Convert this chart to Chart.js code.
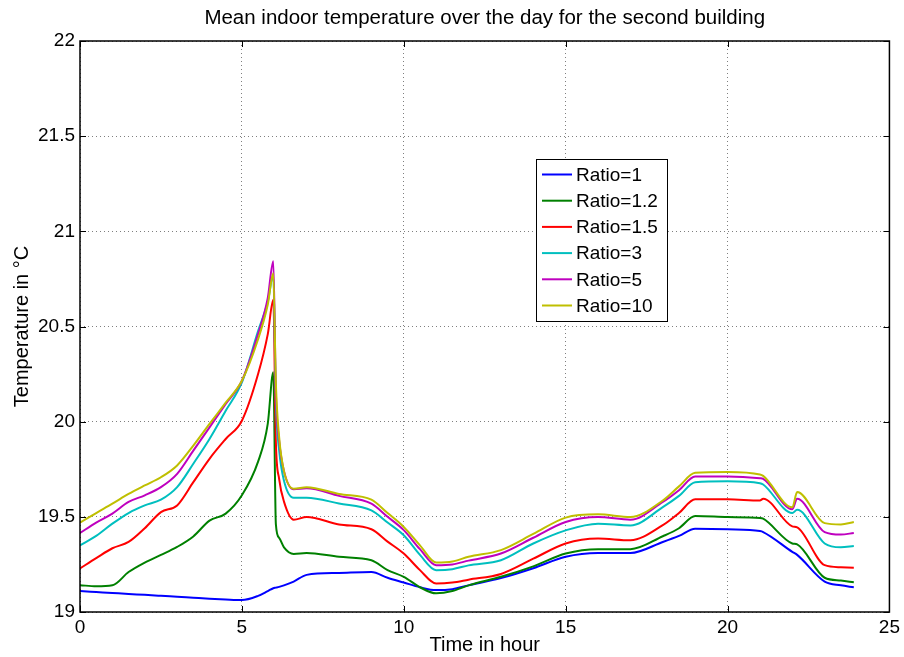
<!DOCTYPE html>
<html>
<head>
<meta charset="utf-8">
<title>Mean indoor temperature</title>
<script src="https://cdn.jsdelivr.net/npm/chart.js@4.4.1/dist/chart.umd.min.js"></script>
<style>
  html, body { margin: 0; padding: 0; background: #fff; }
  #wrap { width: 904px; height: 657px; }
</style>
</head>
<body>
<div id="wrap"><canvas id="chart" width="904" height="657"></canvas></div>
<script>
// Sample times (hours) shared by all series
const hours = [0, 0.5, 1, 1.5, 2, 2.5, 3, 3.5, 4, 4.5, 5, 5.5, 5.8, 5.97, 6.05, 6.15, 6.3, 6.6, 7, 8, 9, 9.5, 10, 10.5, 11, 11.5, 12, 13, 14, 15, 16, 17, 18, 18.5, 19, 20, 21, 21.1, 22, 22.15, 23, 23.5, 23.9];

// Mean indoor temperature (°C)
const ratio1   = [19.11, 19.105, 19.10, 19.095, 19.09, 19.085, 19.08, 19.075, 19.07, 19.066, 19.063, 19.085, 19.11, 19.125, 19.128, 19.132, 19.14, 19.16, 19.195, 19.205, 19.21, 19.18, 19.155, 19.13, 19.115, 19.12, 19.14, 19.178, 19.23, 19.29, 19.31, 19.31, 19.368, 19.40, 19.438, 19.435, 19.425, 19.42, 19.316, 19.30, 19.16, 19.14, 19.13];
const ratio1_2 = [19.141, 19.135, 19.14, 19.21, 19.26, 19.30, 19.342, 19.397, 19.48, 19.517, 19.613, 19.79, 19.99, 20.26, 19.46, 19.39, 19.34, 19.305, 19.31, 19.29, 19.272, 19.22, 19.185, 19.13, 19.098, 19.11, 19.14, 19.185, 19.24, 19.307, 19.33, 19.33, 19.398, 19.44, 19.504, 19.499, 19.494, 19.49, 19.36, 19.355, 19.18, 19.165, 19.156];
const ratio1_5 = [19.229, 19.283, 19.335, 19.368, 19.44, 19.525, 19.56, 19.682, 19.805, 19.909, 20.005, 20.25, 20.46, 20.64, 19.89, 19.70, 19.58, 19.485, 19.499, 19.46, 19.435, 19.37, 19.307, 19.22, 19.15, 19.155, 19.17, 19.20, 19.28, 19.36, 19.386, 19.377, 19.456, 19.52, 19.592, 19.592, 19.586, 19.595, 19.45, 19.445, 19.246, 19.235, 19.232];
const ratio3   = [19.35, 19.40, 19.464, 19.52, 19.56, 19.59, 19.656, 19.779, 19.909, 20.057, 20.206, 20.476, 20.63, 20.77, 20.10, 19.85, 19.69, 19.60, 19.60, 19.57, 19.534, 19.47, 19.403, 19.30, 19.22, 19.225, 19.245, 19.272, 19.36, 19.429, 19.464, 19.455, 19.551, 19.61, 19.682, 19.687, 19.677, 19.67, 19.52, 19.537, 19.36, 19.34, 19.347];
const ratio5   = [19.415, 19.47, 19.517, 19.578, 19.613, 19.656, 19.726, 19.848, 19.97, 20.093, 20.215, 20.46, 20.65, 20.843, 20.15, 19.90, 19.74, 19.645, 19.65, 19.61, 19.569, 19.50, 19.43, 19.33, 19.246, 19.25, 19.27, 19.307, 19.39, 19.473, 19.499, 19.485, 19.578, 19.64, 19.712, 19.712, 19.703, 19.70, 19.54, 19.595, 19.42, 19.407, 19.415];
const ratio10  = [19.47, 19.52, 19.569, 19.62, 19.665, 19.708, 19.77, 19.874, 19.988, 20.10, 20.215, 20.433, 20.616, 20.78, 20.20, 19.92, 19.74, 19.648, 19.656, 19.62, 19.59, 19.52, 19.447, 19.35, 19.26, 19.265, 19.29, 19.325, 19.41, 19.496, 19.513, 19.499, 19.586, 19.66, 19.731, 19.735, 19.722, 19.715, 19.55, 19.63, 19.467, 19.46, 19.473];

const seriesLabels = ['Ratio=1', 'Ratio=1.2', 'Ratio=1.5', 'Ratio=3', 'Ratio=5', 'Ratio=10'];
const seriesValues = [ratio1, ratio1_2, ratio1_5, ratio3, ratio5, ratio10];
const seriesColors = ['#0000ff', '#008000', '#ff0000', '#00bfbf', '#bf00bf', '#bfbf00'];

// Axis ticks
const xTicks = [0, 5, 10, 15, 20, 25];
const yTicks = [19, 19.5, 20, 20.5, 21, 21.5, 22];

const FONT = "'Liberation Sans', Arial, Helvetica, sans-serif";

// MATLAB-style box, inward ticks and legend
const matlabFrame = {
    id: 'matlabFrame',
    afterDraw(chart) {
        const ctx = chart.ctx;
        const area = chart.chartArea;
        const xs = chart.scales.x;
        const ys = chart.scales.y;
        const tl = 6;

        ctx.save();
        ctx.strokeStyle = '#000';
        ctx.lineWidth = 1;
        ctx.setLineDash([]);
        ctx.beginPath();
        xTicks.forEach(v => {
            const px = Math.round(xs.getPixelForValue(v)) + 0.5;
            ctx.moveTo(px, area.bottom); ctx.lineTo(px, area.bottom - tl);
            ctx.moveTo(px, area.top); ctx.lineTo(px, area.top + tl);
        });
        yTicks.forEach(v => {
            const py = Math.round(ys.getPixelForValue(v)) + 0.5;
            ctx.moveTo(area.left, py); ctx.lineTo(area.left + tl, py);
            ctx.moveTo(area.right, py); ctx.lineTo(area.right - tl, py);
        });
        ctx.stroke();

        ctx.lineWidth = 1.5;
        ctx.strokeRect(area.left, area.top, area.right - area.left, area.bottom - area.top);

        // legend box
        const lx = area.left + 456;
        const ly = area.top + 118;
        const lw = 131;
        const lh = 162;
        ctx.fillStyle = '#fff';
        ctx.fillRect(lx, ly, lw, lh);
        ctx.lineWidth = 1;
        ctx.strokeRect(lx + 0.5, ly + 0.5, lw, lh);
        ctx.font = '19px ' + FONT;
        ctx.textBaseline = 'middle';
        ctx.textAlign = 'left';
        seriesLabels.forEach((label, i) => {
            const ry = ly + 15.5 + i * 26.2;
            ctx.strokeStyle = seriesColors[i];
            ctx.lineWidth = 2;
            ctx.beginPath();
            ctx.moveTo(lx + 6, ry);
            ctx.lineTo(lx + 36, ry);
            ctx.stroke();
            ctx.fillStyle = '#000';
            ctx.fillText(label, lx + 40, ry + 1);
        });
        ctx.restore();
    }
};

const datasets = seriesLabels.map((label, i) => ({
    label: label,
    data: hours.map((h, j) => ({ x: h, y: seriesValues[i][j] })),
    borderColor: seriesColors[i],
    backgroundColor: seriesColors[i],
    borderWidth: 2,
    pointRadius: 0,
    cubicInterpolationMode: 'monotone',
    fill: false,
    order: seriesLabels.length - i
}));

new Chart(document.getElementById('chart'), {
    type: 'line',
    data: { datasets: datasets },
    options: {
        responsive: false,
        animation: false,
        devicePixelRatio: 1,
        layout: { padding: { left: 0, right: 11.5, top: 0, bottom: 0 } },
        plugins: {
            legend: { display: false },
            tooltip: { enabled: false },
            title: {
                display: true,
                fullSize: false,
                text: 'Mean indoor temperature over the day for the second building',
                color: '#000',
                font: { family: FONT, size: 20.5, weight: 'normal' },
                padding: { top: 6, bottom: 10.4 }
            }
        },
        scales: {
            x: {
                type: 'linear',
                min: 0,
                max: 25,
                afterBuildTicks: scale => { scale.ticks = xTicks.map(v => ({ value: v })); },
                afterFit: scale => { scale.height = 45; },
                ticks: {
                    color: '#000',
                    font: { family: FONT, size: 19 },
                    padding: 4,
                    maxRotation: 0,
                    callback: v => String(v)
                },
                grid: {
                    color: 'rgba(0,0,0,0.5)',
                    lineWidth: 1,
                    drawTicks: false
                },
                border: { display: false, dash: [1, 3] },
                title: {
                    display: true,
                    text: 'Time in hour',
                    color: '#000',
                    font: { family: FONT, size: 20 },
                    padding: { top: 0, bottom: 0 }
                }
            },
            y: {
                type: 'linear',
                min: 19,
                max: 22,
                afterBuildTicks: scale => { scale.ticks = yTicks.map(v => ({ value: v })); },
                afterFit: scale => { scale.width = 80; },
                ticks: {
                    color: '#000',
                    font: { family: FONT, size: 19 },
                    padding: 5,
                    callback: v => String(v)
                },
                grid: {
                    color: 'rgba(0,0,0,0.5)',
                    lineWidth: 1,
                    drawTicks: false
                },
                border: { display: false, dash: [1, 3] },
                title: {
                    display: true,
                    text: 'Temperature in °C',
                    color: '#000',
                    font: { family: FONT, size: 20 },
                    padding: { top: 10, bottom: 0 }
                }
            }
        }
    },
    plugins: [matlabFrame]
});
</script>
</body>
</html>
